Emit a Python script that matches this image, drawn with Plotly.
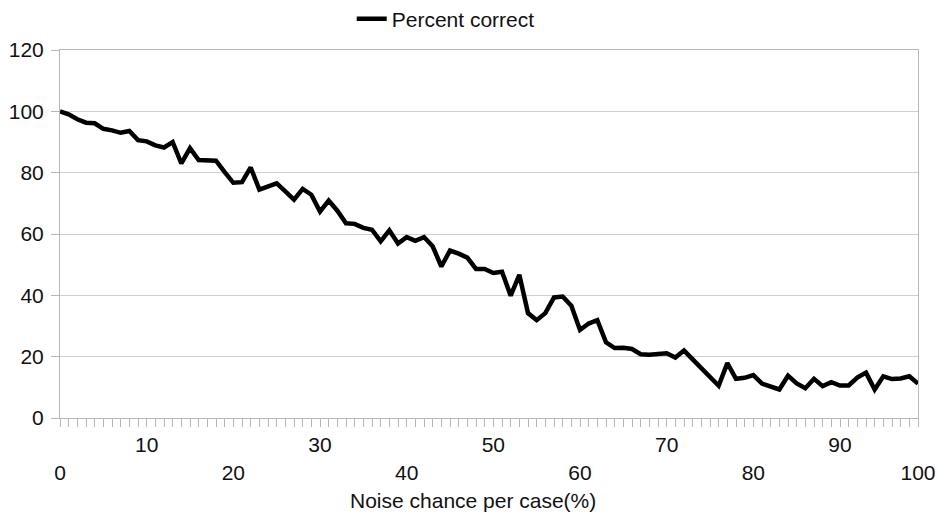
import plotly.graph_objects as go

# Category axis: noise chance per case (%)
noise_pct = [0, 1, 2, 3, 4, 5, 6, 7, 8, 9,
             10, 11, 12, 13, 14, 15, 16, 17, 18, 19,
             20, 21, 22, 23, 24, 25, 26, 27, 28, 29,
             30, 31, 32, 33, 34, 35, 36, 37, 38, 39,
             40, 41, 42, 43, 44, 45, 46, 47, 48, 49,
             50, 51, 52, 53, 54, 55, 56, 57, 58, 59,
             60, 61, 62, 63, 64, 65, 66, 67, 68, 69,
             70, 71, 72, 73, 74, 75, 76, 77, 78, 79,
             80, 81, 82, 83, 84, 85, 86, 87, 88, 89,
             90, 91, 92, 93, 94, 95, 96, 97, 98, 100]

# Series: percent correct
percent_correct = [100.0, 99.0, 97.4, 96.3, 96.1, 94.3, 93.8, 93.0, 93.6, 90.6,
                   90.2, 88.9, 88.2, 90.0, 83.0, 88.0, 84.1, 83.9, 83.9, 80.2,
                   76.7, 76.9, 81.7, 74.5, 75.4, 76.5, 73.9, 71.2, 74.7, 72.8,
                   67.3, 70.9, 67.6, 63.5, 63.3, 62.0, 61.4, 57.6, 61.2, 56.9,
                   59.0, 57.8, 59.0, 56.0, 49.4, 54.6, 53.6, 52.3, 48.6, 48.6,
                   47.3, 47.7, 39.9, 46.7, 34.2, 31.9, 34.2, 39.3, 39.6, 36.6,
                   28.7, 30.8, 31.9, 24.7, 22.8, 22.9, 22.5, 20.8, 20.6, 21.0,
                   21.1, 19.7, 22.0, 19.1, 16.2, 13.3, 10.5, 17.9, 12.8, 13.1,
                   14.0, 11.2, 10.1, 9.3, 13.8, 11.3, 9.7, 12.8, 10.4, 11.7,
                   10.6, 10.6, 13.2, 14.8, 9.3, 13.6, 12.7, 12.9, 13.6, 11.2]

# Tick labels (staggered in two rows like the original)
labelled_pct = [0, 10, 20, 30, 40, 50, 60, 70, 80, 90, 100]
upper_row_pct = [10, 30, 50, 70, 90]
y_ticks = [0, 20, 40, 60, 80, 100, 120]

series_name = "Percent correct"
x_title = "Noise chance per case(%)"

cats = [str(v) for v in noise_pct]
tick_text = []
for v in noise_pct:
    if v in labelled_pct:
        tick_text.append(str(v) if v in upper_row_pct else "<br>" + str(v))
    else:
        tick_text.append("")

FONT = "Liberation Sans, Arial, sans-serif"
GRID = "#cfcfcf"
AXIS = "#b8b8b8"
TXT = "#111111"
FS = 21

fig = go.Figure()
fig.add_trace(go.Scatter(
    x=cats, y=percent_correct, mode="lines", name=series_name,
    line=dict(color="#000000", width=4.5),
    showlegend=True,
))

fig.update_layout(
    width=938, height=516,
    margin=dict(l=60, r=20, t=50, b=98, autoexpand=False),
    paper_bgcolor="white", plot_bgcolor="white",
    font=dict(family=FONT, size=FS, color=TXT),
    showlegend=True,
    legend=dict(orientation="h", x=0.34, xanchor="left", y=1.084, yanchor="middle",
                font=dict(size=FS, color=TXT), itemwidth=30,
                bgcolor="rgba(0,0,0,0)"),
    annotations=[dict(text=x_title, xref="paper", yref="paper",
                      x=(473 - 60) / 858, y=-(500 - 418) / 368,
                      xanchor="center", yanchor="middle", showarrow=False,
                      font=dict(size=FS, color=TXT))],
)

fig.update_xaxes(
    type="category", range=[0, len(cats) - 1], automargin=False,
    tickmode="array", tickvals=cats, ticktext=tick_text,
    ticks="outside", ticklen=8, tickcolor=AXIS, tickwidth=1,
    showline=True, linecolor=AXIS, linewidth=1, mirror=True,
    showgrid=False, zeroline=False,
    tickangle=0,
    tickfont=dict(size=FS, color=TXT),
)

fig.update_yaxes(
    range=[0, 120], tickmode="array", tickvals=y_ticks, automargin=False,
    ticks="outside", ticklen=8, tickcolor=AXIS, tickwidth=1,
    showline=True, linecolor=AXIS, linewidth=1, mirror=True,
    showgrid=True, gridcolor=GRID, gridwidth=1, zeroline=False,
    ticklabelstandoff=3,
    tickfont=dict(size=FS, color=TXT),
)

fig.write_html(
    "out.html",
    config={"displayModeBar": False},
    post_script="document.body.style.margin='0';document.body.style.padding='0';"
                "document.body.style.overflow='hidden';",
)
